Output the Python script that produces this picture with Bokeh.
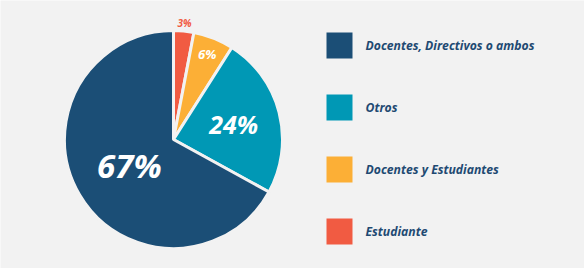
import math
from bokeh.plotting import figure
from bokeh.models import Range1d, ColumnDataSource
from bokeh.core.properties import value
from bokeh.embed import file_html
from bokeh.resources import INLINE

# ---- data ----
categories = ["Docentes, Directivos o ambos", "Otros", "Docentes y Estudiantes", "Estudiante"]
percents = [67, 24, 6, 3]
colors = ["#1b4e76", "#0098b5", "#fcaf36", "#f15b42"]
pct_labels = ["67%", "24%", "6%", "3%"]

# ---- layout ----
W, H = 584, 268
BG = "#f2f2f2"
cx, cy = 173, H - 139
R = 109
label_rfrac = [0.47, 0.57, 0.84, 1.07]
label_size = ["33px", "25px", "13px", "10px"]
label_color = ["white", "white", "white", "#f15b42"]

p = figure(width=W, height=H, output_backend="svg", toolbar_location=None,
           x_range=Range1d(0, W), y_range=Range1d(0, H),
           min_border=0, outline_line_color=None,
           background_fill_color=BG, border_fill_color=BG)
p.axis.visible = False
p.grid.visible = False

# slices drawn clockwise from 12 o'clock, smallest first
order = list(reversed(range(len(percents))))
total = float(sum(percents))
starts, ends, cols = [], [], []
cum = 0.0
mids = {}
for i in order:
    a0 = math.pi / 2 - 2 * math.pi * cum / total
    cum += percents[i]
    a1 = math.pi / 2 - 2 * math.pi * cum / total
    starts.append(a0)
    ends.append(a1)
    cols.append(colors[i])
    mids[i] = (a0 + a1) / 2

src = ColumnDataSource(dict(start=starts, end=ends, color=cols))
p.wedge(x=cx, y=cy, radius=R, start_angle="start", end_angle="end",
        direction="clock", fill_color="color", line_color=BG, line_width=3,
        source=src)

for i in range(len(percents)):
    m = mids[i]
    rr = R * label_rfrac[i]
    p.text(x=[cx + rr * math.cos(m)], y=[cy + rr * math.sin(m)], text=[pct_labels[i]],
           text_align="center", text_baseline="middle",
           text_font=value("Open Sans"), text_font_style="bold italic",
           text_font_size=label_size[i], text_color=label_color[i])

# legend
lx0, ly0, step, sq = 326, H - 45, 62, 26
for k, cat in enumerate(categories):
    yc = ly0 - k * step
    p.rect(x=[lx0 + sq / 2], y=[yc], width=sq, height=sq, fill_color=colors[k], line_color=None)
    p.text(x=[365], y=[yc], text=[cat], text_align="left", text_baseline="middle",
           text_font=value("Open Sans"), text_font_style="bold italic",
           text_font_size="12.2px", text_color="#1f4a72")

open("out.html", "w").write(file_html(p, INLINE))
